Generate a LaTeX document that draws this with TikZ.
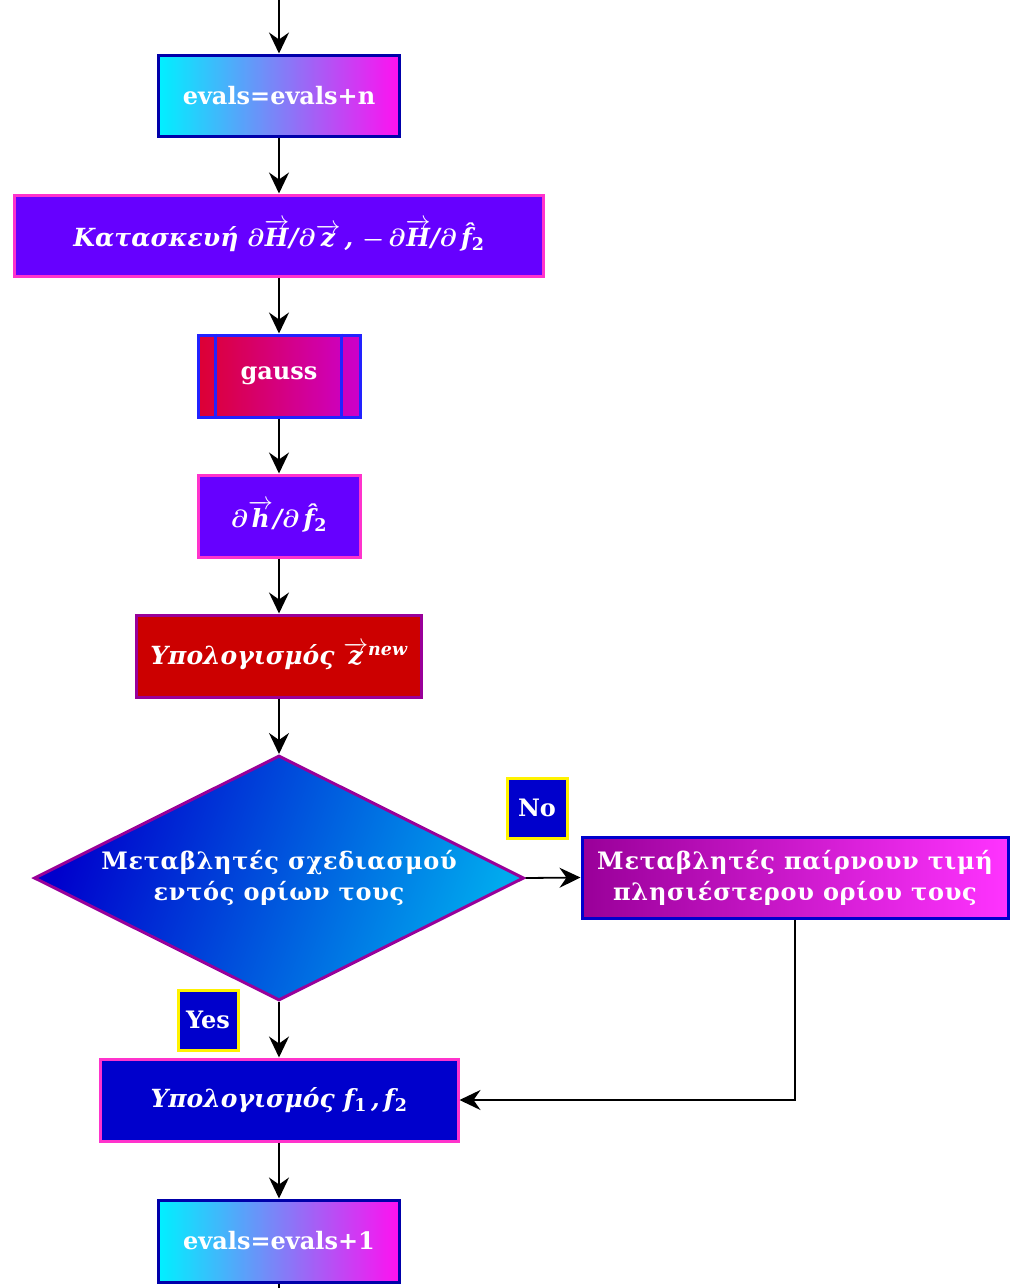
\documentclass[tikz,border=0pt]{standalone}
\usepackage{fontspec}
\setmainfont{DejaVu Serif}
\newfontfamily\grk[LetterSpace=3]{DejaVu Serif}
\usetikzlibrary{shapes.geometric,arrows.meta}

\definecolor{cyanend}{HTML}{00F0FF}
\definecolor{magend}{HTML}{FF10F0}
\definecolor{violetfill}{HTML}{6600FF}
\definecolor{pinkline}{HTML}{FF33CC}
\definecolor{darkblueline}{HTML}{0000AA}
\definecolor{crimsonend}{HTML}{DD0033}
\definecolor{orchidend}{HTML}{CC00CC}
\definecolor{brightblue}{HTML}{2222FF}
\definecolor{redfill}{HTML}{CC0000}
\definecolor{purpleline}{HTML}{990099}
\definecolor{navyfill}{HTML}{0000CC}
\definecolor{skyend}{HTML}{00AAEE}
\definecolor{purplestart}{HTML}{990099}
\definecolor{pinkend}{HTML}{FF33FF}

\newcommand{\lblfont}{\fontsize{24}{29}\selectfont\bfseries}
\newcommand{\mathfont}{\fontsize{25}{30}\selectfont\bfseries\itshape}
% vector arrow over a letter, partial sign in bold, hat accent, upright index
\newcommand{\vecsym}[1]{\ensuremath{\overrightarrow{\mbox{#1}}}}
\newcommand{\pd}{{\boldmath$\partial$}}
\newcommand{\hatf}{\^{f}}
\newcommand{\idx}[1]{\textsubscript{\upshape #1}}

\begin{document}
\begin{tikzpicture}[x=1pt,y=-1pt,
  every node/.style={text=white, font=\lblfont, inner sep=0pt, align=center},
  flowbox/.style={draw, line width=3pt, rectangle},
  mathlbl/.style={font=\mathfont},
  tag/.style={flowbox, fill=navyfill, draw=yellow, line width=3pt,
              minimum width=60pt, minimum height=60pt},
  arr/.style={draw=black, line width=1.8pt,
              -{Stealth[length=21pt,width=20pt,inset=7pt]}},
  plainline/.style={draw=black, line width=1.8pt}]

\useasboundingbox (0,0) rectangle (1014,1288);

% entry and exit points of the fragment
\coordinate (top) at (279,0);
\coordinate (bottom) at (279,1288);

% main column
\node[flowbox, draw=darkblueline, left color=cyanend, right color=magend,
      minimum width=241pt, minimum height=81pt] (evn) at (279,95.5) {evals=evals+n};

\node[flowbox, mathlbl, draw=pinkline, fill=violetfill,
      minimum width=529pt, minimum height=81pt] (build) at (279,235.5)
  {Κατασκευή \pd\vecsym{H}/\pd\vecsym{z}\,, \mbox{\boldmath$-$}\,\pd\vecsym{H}/\pd\,\hatf\idx{2}};

\node[flowbox, draw=brightblue, left color=crimsonend, right color=orchidend,
      minimum width=162pt, minimum height=82pt] (gauss) at (279,376) {gauss};
\draw[brightblue, line width=3pt]
  ([xshift=19pt]gauss.north west) -- ([xshift=19pt]gauss.south west)
  ([xshift=-20pt]gauss.north east) -- ([xshift=-20pt]gauss.south east);

\node[flowbox, mathlbl, draw=pinkline, fill=violetfill,
      minimum width=162pt, minimum height=82pt] (dh) at (279,516)
  {\pd\vecsym{h}/\pd\,\hatf\idx{2}};

\node[flowbox, mathlbl, draw=purpleline, fill=redfill,
      minimum width=285pt, minimum height=82pt] (znew) at (279,656)
  {Υπολογισμός \vecsym{z}\textsuperscript{new}};

\node[diamond, draw=purpleline, line width=3pt, aspect=2,
      left color=navyfill, right color=skyend, shading angle=70,
      minimum width=490pt, minimum height=245pt] (check) at (279,878)
  {\grk Μεταβλητές σχεδιασμού\\[2pt]\grk εντός ορίων τους};

\node[flowbox, draw=navyfill, left color=purplestart, right color=pinkend,
      minimum width=426pt, minimum height=81pt] (clamp) at (795,877.5)
  {\grk Μεταβλητές παίρνουν τιμή\\[2pt]\grk πλησιέστερου ορίου τους};

\node[flowbox, mathlbl, draw=pinkline, fill=navyfill,
      minimum width=358pt, minimum height=82pt] (ff) at (279,1100)
  {Υπολογισμός f\idx{1}\,,\,f\idx{2}};

\node[flowbox, draw=darkblueline, left color=cyanend, right color=magend,
      minimum width=241pt, minimum height=82pt] (ev1) at (279,1241) {evals=evals+1};

% branch labels
\node[tag] (no) at (537,808) {No};
\node[tag] (yes) at (208,1020) {Yes};

% connectors
\draw[arr] (top) -- (evn);
\draw[arr] (evn) -- (build);
\draw[arr] (build) -- (gauss);
\draw[arr] (gauss) -- (dh);
\draw[arr] (dh) -- (znew);
\draw[arr] (znew) -- (check);
\draw[arr] (check.east) -- (clamp.west);
\draw[arr] (check.south) -- (ff.north);
\draw[arr] (clamp.south) |- (ff.east);
\draw[arr] (ff) -- (ev1);
\draw[plainline] (ev1) -- (bottom);

\end{tikzpicture}
\end{document}
